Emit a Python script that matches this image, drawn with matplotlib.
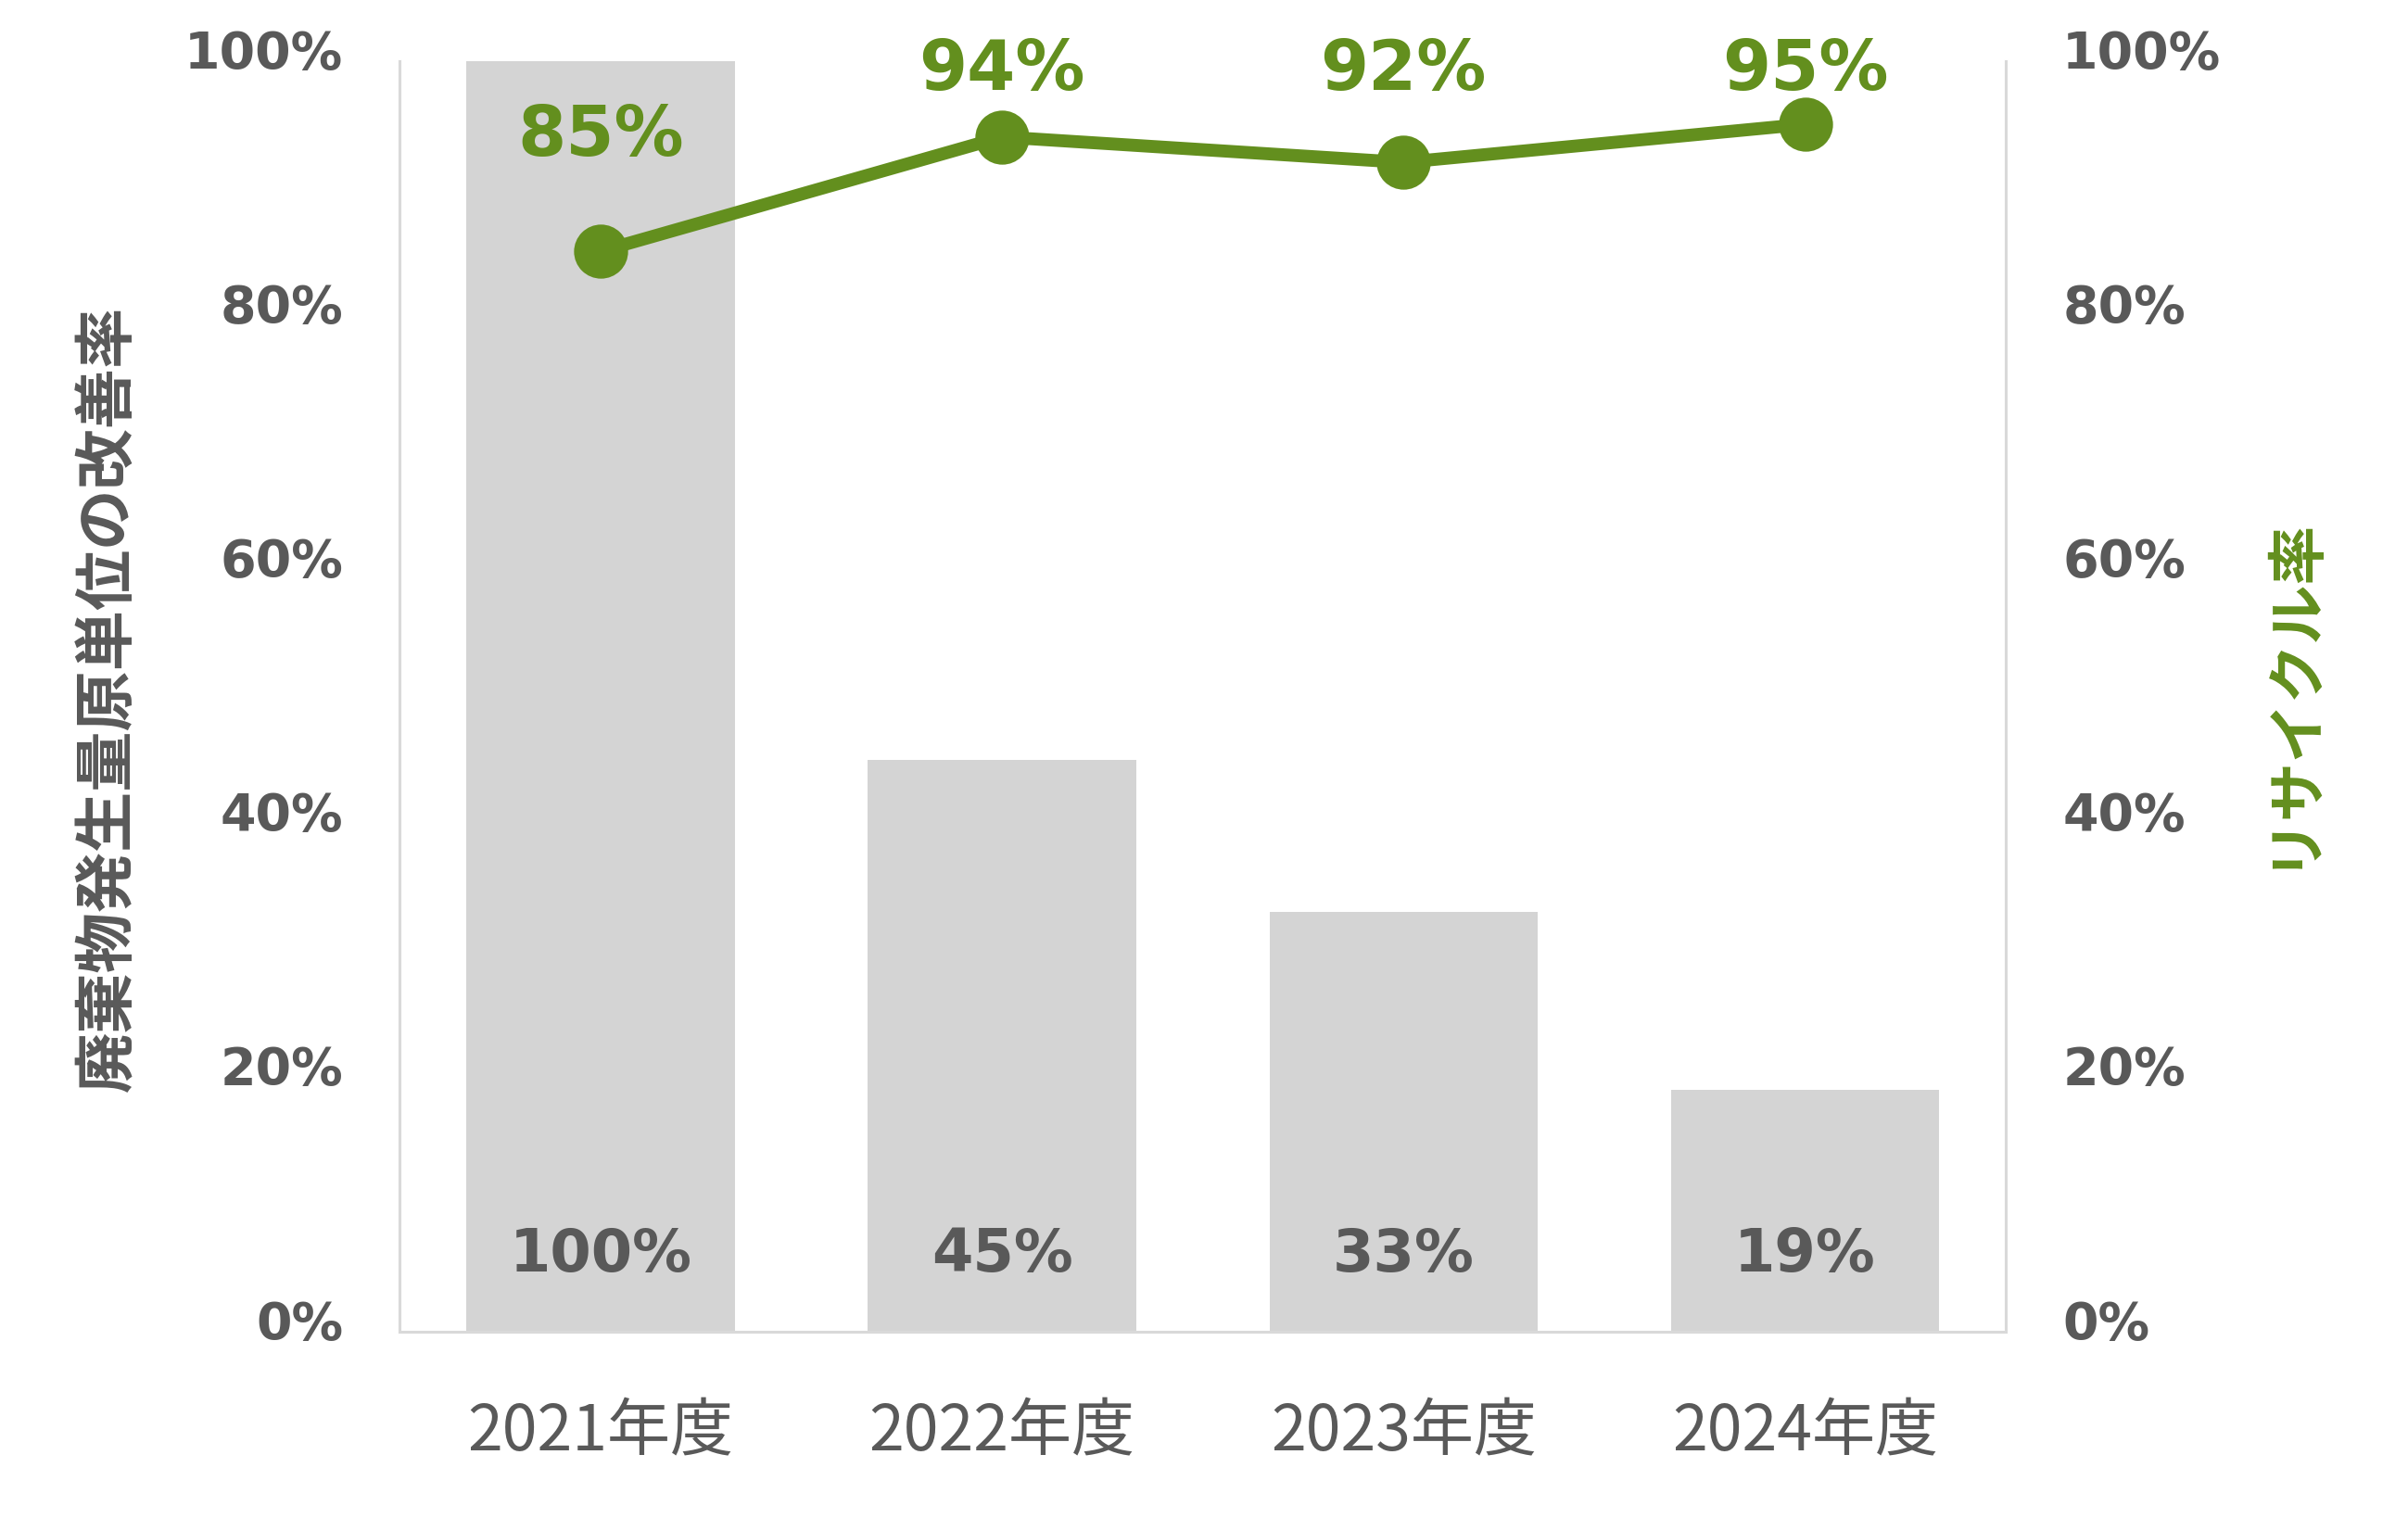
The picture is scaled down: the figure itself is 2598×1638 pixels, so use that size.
import matplotlib
matplotlib.use('Agg')
import matplotlib.pyplot as plt
from matplotlib.transforms import ScaledTranslation

# data
years = ['2021年度', '2022年度', '2023年度', '2024年度']
improvement = [100, 45, 33, 19]      # 廃棄物発生量原単位の改善率 (%)
recycle = [85, 94, 92, 95]           # リサイクル率 (%)
yticks = [0, 20, 40, 60, 80, 100]

GRAY = '#595959'
GREEN = '#638F1E'
BAR = '#D4D4D4'
SPINE = '#D9D9D9'
JP = ['Noto Sans CJK JP', 'DejaVu Sans']

fig = plt.figure(figsize=(12.99, 8.19), dpi=200)
ax = fig.add_axes([0.166, 0.123, 0.667, 0.837])
ax2 = ax.twinx()

x = list(range(len(years)))
ax.bar(x, improvement, width=0.668, color=BAR, zorder=1)
for xi, v in zip(x, improvement):
  ax.text(xi, 6, '{}%'.format(v), ha='center', va='center', fontsize=23,
          fontweight='bold', color=GRAY, family='DejaVu Sans')

ax2.plot(x, recycle, color=GREEN, linewidth=5, marker='o', markersize=20,
         zorder=3)
for xi, v in zip(x, recycle):
  ax2.text(xi, min(v + 9, 99.2), '{}%'.format(v), ha='center', va='center',
           fontsize=27, fontweight='bold', color=GREEN, family='DejaVu Sans')

for a in (ax, ax2):
  a.set_ylim(0, 100)
  a.set_xlim(-0.5, len(years) - 0.5)
  a.set_yticks(yticks)
  a.set_yticklabels(['{}%'.format(t) for t in yticks])
  for s in a.spines.values():
    s.set_visible(False)

ax.spines['left'].set_visible(True)
ax.spines['bottom'].set_visible(True)
ax2.spines['right'].set_visible(True)
for s in (ax.spines['left'], ax.spines['bottom'], ax2.spines['right']):
  s.set_color(SPINE)
  s.set_linewidth(1.1)

ax.tick_params(axis='y', length=0, pad=22, labelsize=20, labelcolor=GRAY)
ax2.tick_params(axis='y', length=0, pad=22, labelsize=20, labelcolor=GRAY)
shift = ScaledTranslation(0, 0.065, fig.dpi_scale_trans)
for lab in ax.get_yticklabels() + ax2.get_yticklabels():
  lab.set_fontweight('bold')
  lab.set_family('DejaVu Sans')
  lab.set_transform(lab.get_transform() + shift)

ax.set_xticks(x)
ax.set_xticklabels(years, family=JP, fontsize=24.5, color=GRAY)
ax.tick_params(axis='x', length=0, pad=27)

fig.text(0.045, 0.54, '廃棄物発生量原単位の改善率', rotation=90, ha='center',
         va='center', fontsize=23.5, fontweight='bold', color=GRAY, family=JP)
fig.text(0.951, 0.545, 'リサイクル率', rotation=90, ha='center', va='center',
         fontsize=23, fontweight='bold', color=GREEN, family=JP)

plt.savefig('out.png', dpi=200)
